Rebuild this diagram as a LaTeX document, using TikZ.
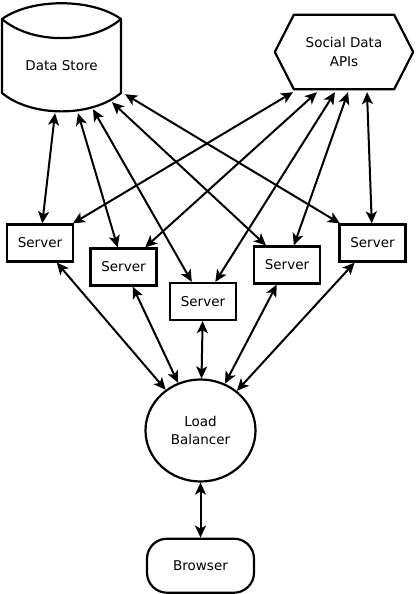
\documentclass[tikz,border=0pt]{standalone}
\usepackage{fontspec}
\setmainfont{DejaVu Sans}
\usetikzlibrary{arrows.meta,calc,positioning,shapes.geometric}
\tikzset{
  server/.style={draw, line width=2.2pt, minimum width=66pt, minimum height=37pt, inner sep=0pt},
  outline/.style={draw, line width=2.2pt, line join=round},
  link/.style={{Stealth[length=12pt,width=11pt,inset=3pt]}-{Stealth[length=12pt,width=11pt,inset=3pt]}, line width=2pt}
}
\begin{document}
\begin{tikzpicture}[x=1pt, y=-1pt, font=\fontsize{13.5}{18.5}\selectfont]
    \useasboundingbox (0,0) rectangle (415,594);
    % stores
    \node [minimum width=121pt, minimum height=93pt] (ds) at (61.5,65.5) {Data Store};
    \begin{scope}[shift={(ds.center)}]
        \draw [outline] (-59.5,-46.5) .. controls (-30,-67.5) and (30,-67.5) .. (59.5,-46.5)
            -- (59.5,27.5) .. controls (30,52) and (-30,52) .. (-59.5,27.5) -- cycle;
        \draw [outline] (-59.5,-46.5) .. controls (-30,-21) and (30,-21) .. (59.5,-46.5);
    \end{scope}
    \node [minimum width=100pt, minimum height=74pt, align=center] (sa) at (344,52) {Social Data\\APIs};
    \draw [outline] (sa.north west) -- (sa.north east) -- ([xshift=19pt]sa.east)
        -- (sa.south east) -- (sa.south west) -- ([xshift=-19pt]sa.west) -- cycle;

    % servers
    \node [server] (s1) at (40,243) {Server};
    \node [server] (s2) at (123.5,267) {Server};
    \node [server] (s3) at (203,301.5) {Server};
    \node [server] (s4) at (287,265) {Server};
    \node [server] (s5) at (372.5,243) {Server};

    \node [draw, ellipse, line width=2.2pt, minimum width=110pt, minimum height=102pt, align=center] (lb) at (200.5,430.5) {Load\\Balancer};
    \node [draw, rounded corners=20pt, line width=2.2pt, minimum width=107pt, minimum height=54pt, below=55pt of lb] (br) {Browser};

    % links
    \foreach \srv/\dx/\dy in {s1/-6.5/1, s2/16.5/1, s3/31.5/-3, s4/50.5/-10, s5/63.5/-18}
        \draw [link] ([shift={(\dx,\dy)}]ds.south) -- (\srv);
    \foreach \srv/\dx in {s1/-51, s2/-27, s3/-9, s4/4, s5/23}
        \draw [link] ([shift={(\dx,3)}]sa.south) -- (\srv);
    \foreach \srv in {s1,s2,s3,s4,s5}
        \draw [link] (\srv) -- (lb);
    \draw [link] (lb) -- (br);
\end{tikzpicture}
\end{document}
